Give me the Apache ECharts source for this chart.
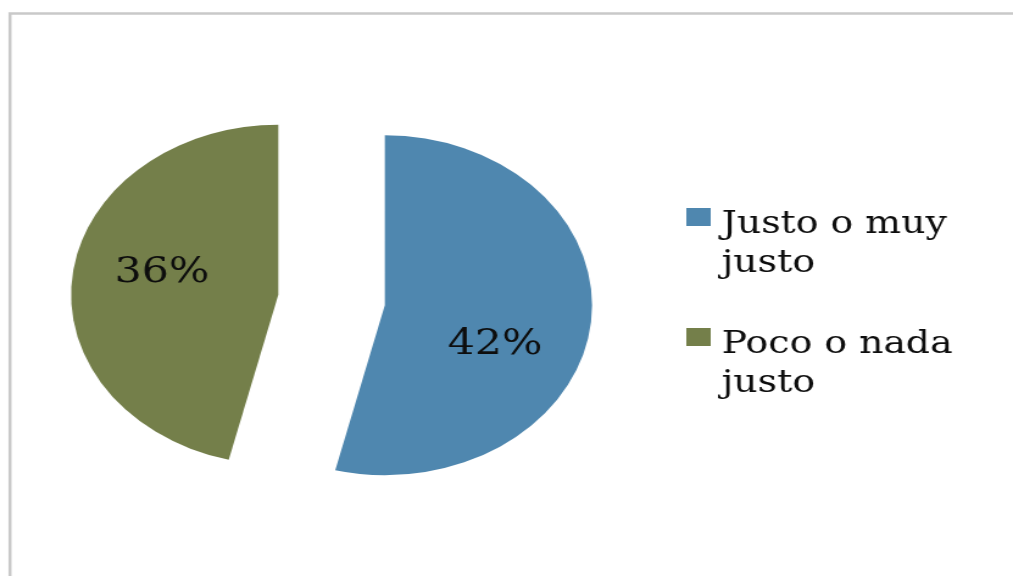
<!DOCTYPE html>
<html>
<head>
<meta charset="utf-8">
<script src="https://cdn.jsdelivr.net/npm/echarts@6/dist/echarts.min.js"></script>
<style>
  html, body { margin: 0; padding: 0; background: #fff; overflow: hidden; }
  /* the chart is laid out on a narrower canvas and widened horizontally */
  #chart { width: 831px; height: 576px; transform: scaleX(1.219); transform-origin: 0 0; }
</style>
</head>
<body>
<div id="chart"></div>
<script>
// Data
const categories = ['Justo o muy justo', 'Poco o nada justo'];
const values = [42, 36];
const colors = ['#4F87AF', '#747F4A'];

const chart = echarts.init(document.getElementById('chart'), null, { renderer: 'canvas' });

// label nudges for each slice (x, y in canvas px)
const labelNudge = [[3, 29], [-8, -11]];
// legend block tops
const legendTops = [173, 293];

const serif = '"DejaVu Serif", "Liberation Serif", serif';

// wrap the last word of a legend entry onto its own line, with a spacer line above
function legendText(name) {
  const parts = name.replace(/ (\S+)$/, '\n$1').split('\n');
  return '{s| }\n' + parts.map(p => '{t|' + p + '}').join('\n');
}

const option = {
  animation: false,
  backgroundColor: '#ffffff',
  graphic: [{
    type: 'rect',
    silent: true,
    shape: { x: 8.2, y: 13.5, width: 3000, height: 3000 },
    style: { fill: 'none', stroke: '#c9c9c9', lineWidth: 2.5 }
  }],
  legend: categories.map((name, i) => ({
    data: [name],
    orient: 'vertical',
    left: 563,
    top: legendTops[i],
    padding: 0,
    icon: 'rect',
    itemWidth: 20,
    itemHeight: 18,
    selectedMode: false,
    formatter: legendText,
    textStyle: {
      color: '#0d0d0d',
      rich: {
        s: { fontSize: 10, lineHeight: 54, padding: [0, 0, 0, 4] },
        t: { fontFamily: serif, fontSize: 31, lineHeight: 39, color: '#0d0d0d', padding: [0, 0, 0, 4] }
      }
    }
  })),
  series: [{
    type: 'pie',
    center: [272, 300],
    radius: 170,
    startAngle: 90,
    clockwise: true,
    selectedMode: 'multiple',
    selectedOffset: 44,
    avoidLabelOverlap: false,
    label: {
      show: true,
      position: 'inside',
      formatter: '{c}%',
      fontFamily: serif,
      fontSize: 35,
      color: '#0d0d0d'
    },
    labelLayout: function (p) {
      return { dx: labelNudge[p.dataIndex][0], dy: labelNudge[p.dataIndex][1] };
    },
    labelLine: { show: false },
    emphasis: { disabled: true },
    data: categories.map((name, i) => ({
      name: name,
      value: values[i],
      selected: true,
      itemStyle: { color: colors[i], borderWidth: 0 },
      select: { itemStyle: { color: colors[i], borderWidth: 0 } }
    }))
  }]
};

chart.setOption(option);
</script>
</body>
</html>
